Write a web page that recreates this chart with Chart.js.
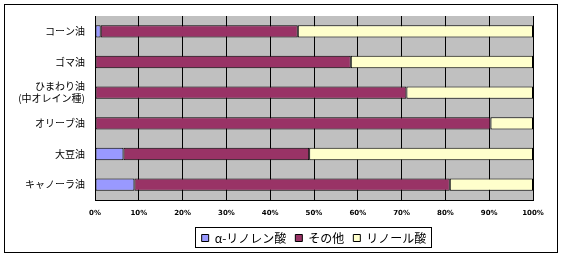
<!DOCTYPE html>
<html lang="ja">
<head>
  <meta charset="UTF-8">
  <title>油脂の脂肪酸組成</title>
  <script src="https://cdn.jsdelivr.net/npm/chart.js"></script>
  <style>
    body { margin: 0; background: #fff; }
    .wrap { width: 563px; height: 258px; }
  </style>
</head>
<body>
<div class="wrap"><canvas class="chart" width="563" height="258"></canvas></div>

<script>
  // データ
  const oils = ['コーン油', 'ゴマ油', ['ひまわり油', '(中オレイン種)'], 'オリーブ油', '大豆油', 'キャノーラ油'];
  const alphaLinolenic = [1.3, 0, 0, 0, 6.5, 9.0];
  const others = [45.0, 58.4, 71.1, 90.3, 42.4, 72.0];
  const linoleic = [53.7, 41.6, 28.9, 9.7, 51.1, 19.0];
  const xTicks = [0, 10, 20, 30, 40, 50, 60, 70, 80, 90, 100];

  const jpFont = "'Noto Sans CJK JP', sans-serif";

  // 背景・枠線
  const framePlugin = {
    id: 'frame',
    afterUpdate(chart) {
      // 凡例をプロット領域の中央に寄せる
      const lg = chart.legend;
      const a = chart.chartArea;
      const d = (a.left + a.right) / 2 - (lg.left + lg.right) / 2;
      lg.left += d;
      lg.right += d;
      lg.legendHitBoxes.forEach(b => { b.left += d; });
    },
    beforeDraw(chart) {
      const { ctx, chartArea: a } = chart;
      ctx.save();
      ctx.fillStyle = '#fff';
      ctx.fillRect(0, 0, chart.width, chart.height);
      ctx.fillStyle = '#c0c0c0';
      ctx.fillRect(a.left, a.top, a.right - a.left, a.bottom - a.top);
      ctx.restore();
    },
    afterDraw(chart) {
      const ctx = chart.ctx;
      ctx.save();
      ctx.strokeStyle = '#000';
      ctx.lineWidth = 1;
      ctx.strokeRect(4.5, 4.5, 553, 248);
      // 凡例の枠
      const boxes = chart.legend.legendHitBoxes;
      if (boxes && boxes.length) {
        const left = Math.min(...boxes.map(b => b.left));
        const right = Math.max(...boxes.map(b => b.left + b.width));
        const cy = boxes[0].top + boxes[0].height / 2;
        ctx.strokeRect(Math.round(left) - 6.5, Math.round(cy) - 10.5, Math.round(right - left) + 11, 20);
      }
      ctx.restore();
    }
  };

  const ctx = document.querySelector('.chart').getContext('2d');
  new Chart(ctx, {
    type: 'bar',
    data: {
      labels: oils,
      datasets: [
        { label: 'α-リノレン酸', data: alphaLinolenic, backgroundColor: '#9999ff' },
        { label: 'その他', data: others, backgroundColor: '#993366' },
        { label: 'リノール酸', data: linoleic, backgroundColor: '#ffffcc' }
      ]
    },
    options: {
      indexAxis: 'y',
      responsive: false,
      animation: false,
      layout: { padding: { left: 0, right: 30, top: 13, bottom: 4 } },
      datasets: {
        bar: {
          borderColor: '#000',
          borderWidth: 1,
          borderSkipped: false,
          categoryPercentage: 1,
          barPercentage: 0.4
        }
      },
      scales: {
        x: {
          stacked: true,
          min: 0,
          max: 100,
          afterBuildTicks: scale => { scale.ticks = xTicks.map(v => ({ value: v })); },
          afterFit: scale => { scale.height = 23; },
          grid: { color: '#000', drawTicks: false },
          border: { color: '#000' },
          ticks: {
            padding: 9,
            color: '#000',
            font: { family: 'DejaVu Sans', size: 7, weight: 'bold' },
            callback: v => v + '%'
          }
        },
        y: {
          stacked: true,
          afterFit: scale => { scale.width = 95; },
          grid: { display: false, drawTicks: false },
          border: { color: '#000' },
          ticks: {
            padding: 10,
            color: '#000',
            font: { family: jpFont, size: 10 }
          }
        }
      },
      plugins: {
        legend: {
          position: 'bottom',
          labels: {
            boxWidth: 7,
            boxHeight: 7,
            padding: 9,
            color: '#000',
            font: { family: jpFont, size: 12 }
          }
        },
        tooltip: { enabled: false }
      }
    },
    plugins: [framePlugin]
  });
</script>
</body>
</html>
